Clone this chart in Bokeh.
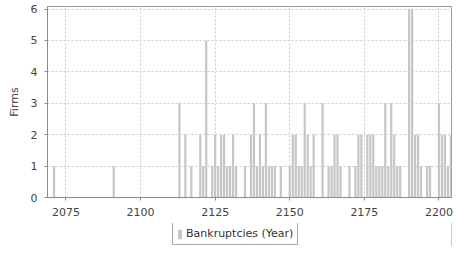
from bokeh.plotting import figure
from bokeh.layouts import column
from bokeh.models import Range1d, Legend, LegendItem, FixedTicker, ColumnDataSource
from bokeh.embed import file_html
from bokeh.resources import INLINE

# ---- data ----
years = [2071, 2091,
         2113, 2115, 2117, 2120, 2121, 2122, 2124, 2125, 2126, 2127, 2128, 2129, 2130,
         2131, 2132, 2135, 2137, 2138, 2139, 2140, 2141, 2142, 2143, 2144, 2145, 2147,
         2150, 2151, 2152, 2153, 2154, 2155, 2156, 2157, 2158, 2161, 2163, 2164, 2165,
         2166, 2167, 2170, 2172, 2173, 2174, 2176, 2177, 2178, 2179, 2180, 2181, 2182,
         2183, 2184, 2185, 2186, 2187, 2190, 2191, 2192, 2193, 2194, 2196, 2197, 2200,
         2201, 2202, 2203, 2204]
firms = [1, 1,
         3, 2, 1, 2, 1, 5, 1, 2, 1, 2, 2, 1, 1,
         2, 1, 1, 2, 3, 1, 2, 1, 3, 1, 1, 1, 1,
         1, 2, 2, 1, 1, 3, 2, 1, 2, 3, 1, 1, 2,
         2, 1, 1, 1, 2, 2, 2, 2, 2, 1, 1, 1, 3,
         1, 3, 2, 1, 1, 6, 6, 2, 2, 1, 1, 1, 3,
         2, 2, 1, 2]
x_ticks = [2075, 2100, 2125, 2150, 2175, 2200]
y_ticks = [0, 1, 2, 3, 4, 5, 6]
series_name = "Bankruptcies (Year)"
y_label = "Firms"

src = ColumnDataSource(dict(year=years, firms=firms))

FONT = "DejaVu Sans"
BAR = "#c6c6c6"

p = figure(width=453, height=223,
           output_backend="svg", toolbar_location=None,
           x_range=Range1d(2068.8, 2204.2), y_range=Range1d(0, 6.08),
           min_border_left=47, min_border_right=2, min_border_top=6,
           min_border_bottom=26)
p.background_fill_color = "white"
p.border_fill_color = "white"
p.outline_line_color = "#9a9a9a"
p.outline_line_width = 1

r = p.vbar(x="year", top="firms", bottom=0, width=0.74, source=src,
           fill_color=BAR, line_color=None)

# grids
p.xgrid.ticker = FixedTicker(ticks=x_ticks)
p.ygrid.ticker = FixedTicker(ticks=y_ticks)
for g in (p.xgrid, p.ygrid):
    g.grid_line_color = "#cccccc"
    g.grid_line_dash = "2 2"
    g.grid_line_width = 1

# axes
p.xaxis.ticker = FixedTicker(ticks=x_ticks)
p.yaxis.ticker = FixedTicker(ticks=y_ticks)
p.yaxis.axis_label = y_label
for ax in (p.xaxis, p.yaxis):
    ax.axis_line_color = "#8c8c8c"
    ax.major_tick_line_color = "#8c8c8c"
    ax.major_tick_in = 0
    ax.major_tick_out = 3
    ax.minor_tick_line_color = None
    ax.major_label_text_font = FONT
    ax.major_label_text_font_size = "11px"
    ax.major_label_text_color = "#444444"
    ax.axis_label_text_font = FONT
    ax.axis_label_text_font_size = "11px"
    ax.axis_label_text_font_style = "normal"
    ax.axis_label_text_color = "#444444"
p.yaxis.major_label_standoff = 7
p.xaxis.major_label_standoff = 7
p.yaxis.axis_label_standoff = 7

# ---- legend strip below the chart (its x-range holds none of the bars) ----
leg_fig = figure(width=453, height=23, output_backend="svg", toolbar_location=None,
                 x_range=Range1d(0, 1), y_range=Range1d(0, 1),
                 min_border_left=0, min_border_right=0, min_border_top=0,
                 min_border_bottom=0)
leg_fig.axis.visible = False
leg_fig.grid.visible = False
leg_fig.outline_line_color = None
leg_fig.background_fill_color = "white"
leg_fig.border_fill_color = "white"
leg_r = leg_fig.vbar(x="year", top="firms", width=0.74, source=src,
                     fill_color=BAR, line_color=None)

legend = Legend(items=[LegendItem(label=series_name, renderers=[leg_r])],
                location=(125, 1), orientation="horizontal")
legend.label_text_font = FONT
legend.label_text_font_size = "11px"
legend.label_text_color = "#333333"
legend.glyph_width = 5
legend.glyph_height = 12
legend.label_standoff = 4
legend.padding = 4
legend.margin = 0
legend.border_line_color = "#555555"
legend.border_line_width = 1
legend.background_fill_color = "white"
legend.label_height = 12
leg_fig.add_layout(legend, "center")

layout = column(p, leg_fig, spacing=0)
open("out.html", "w").write(file_html(layout, INLINE))
